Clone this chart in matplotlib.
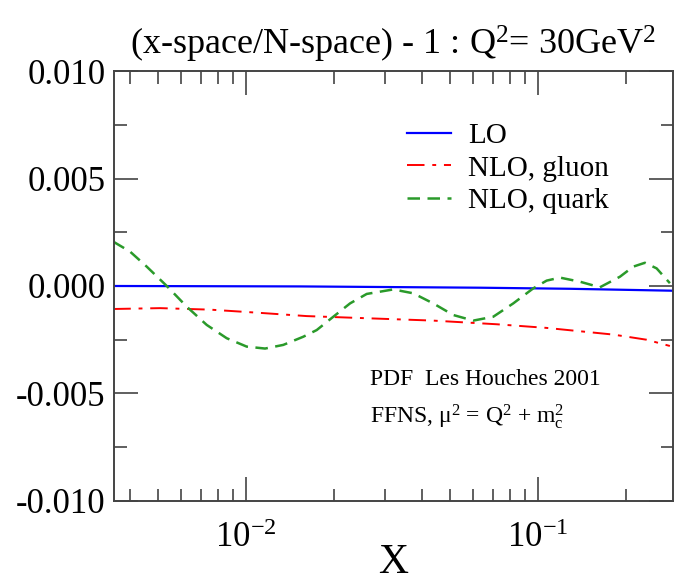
import numpy as np
import matplotlib
matplotlib.use("Agg")
import matplotlib.pyplot as plt
from matplotlib.ticker import FixedLocator, FuncFormatter, LogLocator, NullFormatter

plt.rcParams["font.family"] = ["Liberation Serif", "DejaVu Serif"]
plt.rcParams["mathtext.fontset"] = "custom"
plt.rcParams["mathtext.rm"] = "Liberation Serif"
plt.rcParams["mathtext.it"] = "Liberation Serif"
plt.rcParams["axes.unicode_minus"] = False

# (x-space / N-space) - 1 at Q^2 = 30 GeV^2
x_lo = [0.00351, 0.0153, 0.0633, 0.1287, 0.290]
lo = [0.0, -0.00002, -0.00008, -0.00013, -0.00022]

x_gluon = [0.00351, 0.00508, 0.00753, 0.01116, 0.01614, 0.0259, 0.0438,
           0.0722, 0.1071, 0.1811, 0.2357, 0.2831]
nlo_gluon = [-0.00107, -0.00103, -0.00110, -0.00125, -0.00140, -0.00150,
             -0.00161, -0.00178, -0.00195, -0.00226, -0.00250, -0.00279]

x_quark = [0.003512, 0.004006, 0.004570, 0.005352, 0.006263, 0.007333,
           0.008589, 0.010055, 0.011618, 0.013418, 0.015711, 0.017464,
           0.019907, 0.022714, 0.025905, 0.031939, 0.037396, 0.043782,
           0.051273, 0.060036, 0.070289, 0.082298, 0.096360, 0.10710,
           0.11892, 0.13923, 0.16302, 0.19088, 0.21202, 0.23248, 0.25494,
           0.28313]
nlo_quark = [0.00206, 0.00160, 0.00090, 0.0, -0.00096, -0.00181, -0.00243,
             -0.00282, -0.00291, -0.00274, -0.00236, -0.00205, -0.00143,
             -0.00081, -0.00037, -0.00016, -0.00034, -0.00081, -0.00135,
             -0.00161, -0.00143, -0.00081, -0.00011, 0.00025, 0.00039,
             0.00020, -0.00006, 0.00043, 0.00090, 0.00108, 0.00082, 0.00013]

y_ticks = [-0.010, -0.005, 0.000, 0.005, 0.010]

fig = plt.figure(figsize=(6.77, 5.83), dpi=100)
ax = fig.add_axes([0.1684, 0.1407, 0.8256, 0.7375])

ax.plot(x_lo, lo, color="#0000ff", lw=1.6, label="LO")
ax.plot(x_gluon, nlo_gluon, color="#ff0000", lw=1.4, dashes=(9, 4, 2, 4),
        label="NLO, gluon")
ax.plot(x_quark, nlo_quark, color="#2a9a2a", lw=1.8, dashes=(5, 3),
        label="NLO, quark")

ax.set_xscale("log")
ax.set_xlim(0.00353, 0.290)
ax.set_ylim(-0.010, 0.010)

ax.yaxis.set_major_locator(FixedLocator(y_ticks))
ax.yaxis.set_minor_locator(FixedLocator([-0.0075, -0.0025, 0.0025, 0.0075]))
ax.yaxis.set_major_formatter(FuncFormatter(lambda v, p: f"{v:.3f}"))
ax.xaxis.set_major_locator(LogLocator(base=10, numticks=10))
ax.xaxis.set_minor_locator(LogLocator(base=10, subs=np.arange(2, 10), numticks=10))
ax.xaxis.set_minor_formatter(NullFormatter())
ax.xaxis.set_major_formatter(
    FuncFormatter(lambda v, p: r"10$^{%d}$" % int(round(np.log10(v)))))

ax.tick_params(which="both", direction="in", top=True, right=True,
               color="#444444", width=1.2)
ax.tick_params(which="major", length=17, labelsize=25, pad=6)
ax.tick_params(which="minor", length=9)
ax.tick_params(axis="x", which="major", labelsize=25, pad=15)
for s in ax.spines.values():
    s.set_color("#444444")
    s.set_linewidth(1.4)

ax.set_title(r"(x-space/N-space) - 1 : Q$^{2}$= 30GeV$^{2}$", fontsize=26,
             pad=12)
ax.set_xlabel("X", fontsize=30, labelpad=-8)

ax.legend(loc="upper left", bbox_to_anchor=(0.524, 0.879), frameon=False,
          fontsize=21, handlelength=1.5, handletextpad=0.6, labelspacing=0.2,
          borderaxespad=0, borderpad=0)

ax.text(0.458, 0.282, "PDF  Les Houches 2001", transform=ax.transAxes,
        fontsize=17, va="center")
ax.text(0.458, 0.195, r"FFNS, μ$^{2}$ = Q$^{2}$ + m$_{\rm c}^{2}$",
        transform=ax.transAxes, fontsize=17, va="center")

fig.savefig("out.png", dpi=100)
